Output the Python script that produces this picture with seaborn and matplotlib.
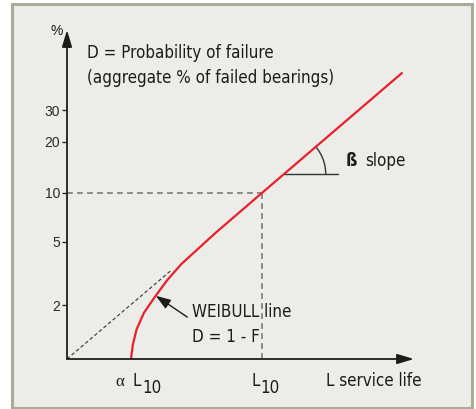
import numpy as np
import matplotlib
matplotlib.use("Agg")
import matplotlib.pyplot as plt
from matplotlib.patches import Rectangle
from matplotlib.ticker import NullLocator
from matplotlib import font_manager
import seaborn as sns

# Weibull line: service life (relative units) against probability of failure D (%)
life = [18.44, 18.96, 20.03, 22.19, 25.36, 28.96, 33.0, 38.04, 42.8, 56.2, 96.5]
failure_pct = [0.91, 1.12, 1.40, 1.79, 2.26, 2.89, 3.64, 4.58, 5.68, 10.0, 45.9]

# straight-line extension of the Weibull line below the knee
extension_life = [0.0, 30.2]
extension_pct = [0.91, 3.34]

# rating life L10 (10 % failed) and the modified life alpha*L10
l10_life = 56.2
l10_pct = 10.0
alpha_l10_life = 18.44

# horizontal reference for the slope angle
slope_ref_pct = 13.0
slope_ref_life = [62.45, 78.2]

# pointer to the curved part of the line
pointer_life = 25.6
pointer_pct = 2.29

y_ticks = [2, 5, 10, 20, 30]
y_range = (0.91, 68.6)
x_range = (0, 100)

W, H = 476, 409
RED = "#e8202a"
INK = "#1c1c1c"
REGULAR = ["Liberation Sans", "DejaVu Sans"]


def pick_narrow():
    """Narrowest sans face available: (family, stretch)."""
    have = {(f.name, str(f.stretch)) for f in font_manager.fontManager.ttflist}
    for fam, st in [("Liberation Sans Narrow", "normal"),
                    ("Liberation Sans Narrow", "condensed"),
                    ("Noto Sans", "condensed"),
                    ("DejaVu Sans", "condensed"),
                    ("Noto Sans", "semi-condensed")]:
        if (fam, st) in have:
            return fam, st
    return "Liberation Sans", "normal"


NARROW_FAMILY, NARROW_STRETCH = pick_narrow()
NARROW = dict(family=[NARROW_FAMILY, "DejaVu Sans"], stretch=NARROW_STRETCH)

sns.set_theme(style="white")
plt.rcParams["font.family"] = REGULAR


def weibull_fwd(p):
    p = np.clip(np.asarray(p, dtype=float), 1e-6, 99.9999)
    return np.log(-np.log1p(-p / 100.0))


def weibull_inv(w):
    return 100.0 * (-np.expm1(-np.exp(np.asarray(w, dtype=float))))


def fig_px(x, y):
    return x / W, 1 - y / H


fig = plt.figure(figsize=(W / 100, H / 100), dpi=100, facecolor="white")

# panel background with border
x0, y0 = 11.5, 3.5
x1, y1 = 471.5, 407.5
fig.patches.append(Rectangle((x0 / W, 1 - y1 / H), (x1 - x0) / W, (y1 - y0) / H,
                             transform=fig.transFigure, facecolor="#ececE8",
                             edgecolor="#a9ac98", lw=2.2, zorder=-5))

ax = fig.add_axes([67 / W, 1 - 359 / H, 347 / W, 329 / H])
ax.set_facecolor("none")
ax.set_zorder(2)

sns.lineplot(x=life, y=failure_pct, ax=ax, color=RED, lw=1.6, sort=False,
             estimator=None, zorder=4)
ax.set_yscale("function", functions=(weibull_fwd, weibull_inv))
ax.set_xlim(*x_range)
ax.set_ylim(*y_range)

# construction line and L10 guides
ax.plot(extension_life, extension_pct, color="#333333", lw=0.8, ls=(0, (3.2, 2.2)), zorder=3)
ax.plot([x_range[0], l10_life], [l10_pct, l10_pct], color="#7a7a7a", lw=1.2,
        ls=(0, (3.5, 2.5)), zorder=2)
ax.plot([l10_life, l10_life], [y_range[0], l10_pct], color="#7a7a7a", lw=1.2,
        ls=(0, (3.5, 2.5)), zorder=2)

# slope angle
ax.plot(slope_ref_life, [slope_ref_pct, slope_ref_pct], color="#333333", lw=1.0, zorder=3)
c = ax.transData.transform((slope_ref_life[0], slope_ref_pct))
tip = ax.transData.transform((life[-1], failure_pct[-1]))
ang = np.arctan2(tip[1] - c[1], tip[0] - c[0])
th = np.linspace(0, ang, 40)
arc_px = np.column_stack([c[0] + 42 * np.cos(th), c[1] + 42 * np.sin(th)])
arc = ax.transData.inverted().transform(arc_px)
ax.plot(arc[:, 0], arc[:, 1], color="#333333", lw=1.0, zorder=3)

# axes with arrow heads
for end in [(0, 1), (1, 0)]:
    ax.annotate("", xy=end, xytext=(0, 0), xycoords="axes fraction",
                arrowprops=dict(arrowstyle="-|>,head_length=1.0,head_width=0.3",
                                mutation_scale=10, lw=1.3, color=INK,
                                shrinkA=0, shrinkB=0), zorder=5)
for s in ax.spines.values():
    s.set_visible(False)

ax.set_yticks(y_ticks)
ax.set_yticklabels([str(t) for t in y_ticks])
ax.yaxis.set_minor_locator(NullLocator())
ax.set_xticks([])
ax.tick_params(axis="y", length=3.4, width=0.9, pad=1.6, labelsize=10,
               color=INK, labelcolor="#2a2a2a", left=True)
ax.set_xlabel("")
ax.set_ylabel("")

# pointer to the curved part
ax.annotate("", xy=(pointer_life, pointer_pct), xytext=(31.5, -21.3),
            textcoords="offset pixels",
            arrowprops=dict(arrowstyle="-|>,head_length=1.0,head_width=0.35",
                            mutation_scale=9, lw=1.0, color=INK,
                            shrinkA=0, shrinkB=0), zorder=5)

# text
fs = 12.2
fig.text(*fig_px(56.5, 31), "%", ha="center", va="center", fontsize=10,
         family=REGULAR, color=INK)
fig.text(*fig_px(87, 57.7), "D = Probability of failure", ha="left", va="baseline",
         fontsize=fs, color=INK, **NARROW)
fig.text(*fig_px(87, 82.7), "(aggregate % of failed bearings)", ha="left",
         va="baseline", fontsize=fs, color=INK, **NARROW)
fig.text(*fig_px(346, 165.7), "ß", ha="left", va="baseline", fontsize=fs + 0.5,
         weight="bold", color=INK, **NARROW)
fig.text(*fig_px(365, 165.7), "slope", ha="left", va="baseline", fontsize=fs,
         color=INK, **NARROW)
fig.text(*fig_px(191.7, 317.3), "WEIBULL line", ha="left", va="baseline",
         fontsize=fs, color=INK, **NARROW)
fig.text(*fig_px(191.7, 341.7), "D = 1 - F", ha="left", va="baseline",
         fontsize=fs, color=INK, **NARROW)
fig.text(*fig_px(326, 385.7), "L service life", ha="left", va="baseline",
         fontsize=fs, color=INK, **NARROW)


def axis_label(x, pieces):
    for txt, dx, dy, props in pieces:
        ax.annotate(txt, xy=(x, 0), xycoords=("data", "axes fraction"),
                    xytext=(dx, dy), textcoords="offset pixels", ha="left",
                    va="baseline", fontsize=fs, color=INK,
                    annotation_clip=False, **props)


SERIF = dict(family=["Liberation Serif", "DejaVu Serif"])
axis_label(alpha_l10_life, [("α", -16, -26.7, SERIF),
                            ("L", 2, -26.7, NARROW),
                            ("10", 11, -33.7, NARROW)])
axis_label(l10_life, [("L", -11, -26.7, NARROW),
                      ("10", -2, -33.7, NARROW)])

fig.savefig("out.png", dpi=100, facecolor="white")
